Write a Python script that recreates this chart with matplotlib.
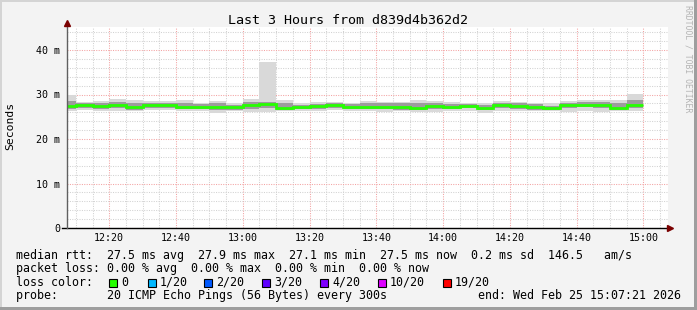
import matplotlib
matplotlib.use("Agg")
import matplotlib.pyplot as plt
from matplotlib.patches import Rectangle
import numpy as np

# ---- Data (ms), one bar per 5-minute step, first bar starts 12:05 ----
bar_start = "12:05"
step_min = 5
median = [27.4, 27.6, 27.4, 27.7, 27.1, 27.6, 27.6, 27.2, 27.2, 27.1, 27.1, 27.6,
          27.8, 27.0, 27.1, 27.4, 27.6, 27.3, 27.3, 27.3, 27.1, 27.0, 27.4, 27.3,
          27.4, 27.0, 27.6, 27.4, 27.1, 26.9, 27.6, 27.7, 27.7, 27.0, 27.6]
p_max = [29.9, 28.4, 28.5, 29.0, 28.8, 28.6, 28.6, 28.7, 28.2, 28.5, 28.0, 29.1,
         37.4, 28.8, 28.0, 28.3, 28.4, 28.2, 28.5, 28.4, 28.4, 28.8, 28.6, 28.4,
         28.2, 28.2, 28.6, 28.4, 28.2, 28.0, 28.6, 28.8, 28.8, 28.8, 30.1]
p_hi = [28.5, 28.0, 28.0, 28.4, 28.0, 28.1, 28.1, 28.0, 27.8, 28.0, 27.6, 28.3,
        28.4, 28.0, 27.6, 27.9, 28.0, 27.8, 28.0, 28.0, 28.0, 28.2, 28.0, 27.9,
        27.8, 27.7, 28.1, 28.0, 27.8, 27.5, 28.1, 28.3, 28.3, 28.2, 28.8]
p_lo = [26.8, 27.0, 26.8, 27.0, 26.6, 27.0, 26.9, 26.7, 26.7, 26.5, 26.6, 26.8,
        27.0, 26.6, 26.7, 26.8, 27.0, 26.8, 26.8, 26.7, 26.6, 26.5, 26.8, 26.8,
        26.9, 26.5, 27.0, 26.8, 26.6, 26.5, 27.0, 27.1, 27.0, 26.5, 27.0]
p_min = [26.3, 26.6, 26.3, 26.2, 26.2, 26.5, 26.5, 26.3, 26.2, 25.9, 26.3, 26.1,
         26.1, 26.3, 26.4, 26.3, 26.5, 26.4, 26.2, 26.0, 26.2, 26.1, 26.1, 26.2,
         26.3, 25.8, 26.2, 26.3, 26.2, 26.4, 26.1, 26.2, 26.1, 26.3, 26.3]

x_labels = ["12:20", "12:40", "13:00", "13:20", "13:40", "14:00", "14:20", "14:40", "15:00"]
y_ticks = [0, 10, 20, 30, 40]
y_labels = ["0", "10 m", "20 m", "30 m", "40 m"]
view_start, view_end = "12:07:21", "15:07:21"

title = "Last 3 Hours from d839d4b362d2"
rtt_line = "median rtt:  27.5 ms avg  27.9 ms max  27.1 ms min  27.5 ms now  0.2 ms sd  146.5   am/s"
loss_line = "packet loss: 0.00 % avg  0.00 % max  0.00 % min  0.00 % now"
probe_line = "probe:       20 ICMP Echo Pings (56 Bytes) every 300s"
end_line = "end: Wed Feb 25 15:07:21 2026"
loss_names = ["0", "1/20", "2/20", "3/20", "4/20", "10/20", "19/20"]
loss_colors = ["#26ff00", "#00b8ff", "#0059ff", "#5e00ff", "#7e00ff", "#dd00ff", "#ff0000"]


def to_min(s):
    parts = [int(v) for v in s.split(":")]
    m = (parts[0] - 12) * 60 + parts[1]
    if len(parts) > 2:
        m += parts[2] / 60
    return m


W, H = 697, 310
plt.rcParams['font.family'] = ['DejaVu Sans Mono']
fig = plt.figure(figsize=(W / 100, H / 100), dpi=100)
fig.patch.set_facecolor("#f3f3f3")


def fx(x):
    return x / W


def fy(y):
    return 1 - y / H


# plot area in pixels: x 67..668, y 27..228
ax = fig.add_axes([fx(67), fy(228), 601 / W, 201 / H])
ax.set_facecolor("white")

edges = to_min(bar_start) + step_min * np.arange(len(median) + 1)
left = edges[:-1]
pmin, pmax = np.array(p_min), np.array(p_max)
plo, phi = np.array(p_lo), np.array(p_hi)

# ---- smoke ----
ax.bar(left, pmax - pmin, bottom=pmin, width=step_min, align="edge",
       color="#d9d9d9", linewidth=0, zorder=2)
ax.bar(left, phi - plo, bottom=plo, width=step_min, align="edge",
       color="#9c9c9c", linewidth=0, zorder=3)
ax.stairs(median, edges, baseline=None, color="#26ff00", linewidth=2.0, zorder=4)

ax.set_xlim(to_min(view_start), to_min(view_end))
ax.set_ylim(0, 201 / 4.45)

ax.set_xticks([to_min(s) for s in x_labels])
ax.set_xticklabels(x_labels)
ax.set_xticks(np.arange(10, 190, 5), minor=True)
ax.set_yticks(y_ticks)
ax.set_yticklabels(y_labels)
ax.set_yticks(np.arange(0, 46, 2), minor=True)

ax.set_axisbelow(True)
ax.grid(which="minor", color="#d2d2d2", linestyle=(0, (1, 1.3)), linewidth=0.75)
ax.grid(which="major", color="#f3a3a3", linestyle=(0, (1, 1.3)), linewidth=0.75)

ax.tick_params(which="both", length=0)
ax.tick_params(axis="x", pad=3.5, labelsize=7.2, colors="#000000")
ax.tick_params(axis="y", pad=5, labelsize=7.2, colors="#000000")
for s in ax.spines.values():
    s.set_visible(False)

# axis lines and arrows
fig.add_artist(plt.Line2D([fx(62), fx(668)], [fy(228), fy(228)], color="black", lw=1.0))
fig.add_artist(plt.Line2D([fx(67), fx(67)], [fy(228), fy(24)], color="#606060", lw=1.0))
fig.add_artist(plt.Line2D([fx(670)], [fy(228)], marker=">", color="#7a0000", markersize=4.5))
fig.add_artist(plt.Line2D([fx(67)], [fy(22.5)], marker="^", color="#7a0000", markersize=4.5))

# ---- texts ----
fig.text(0.4993, fy(24), title, ha="center", va="baseline", fontsize=9.6)
fig.text(fx(10), fy(126), "Seconds", rotation=90, ha="center", va="center", fontsize=8.2)
fig.text(fx(688), fy(59), "RRDTOOL / TOBI OETIKER", rotation=270, ha="center",
         va="center", fontsize=5.9, color="#b4b4b4")

fs = 8.35
fig.text(fx(16), fy(258.5), rtt_line, ha="left", va="baseline", fontsize=fs)
fig.text(fx(16), fy(272), loss_line, ha="left", va="baseline", fontsize=fs)
fig.text(fx(16), fy(285.7), "loss color:", ha="left", va="baseline", fontsize=fs)
fig.text(fx(16), fy(299.4), probe_line, ha="left", va="baseline", fontsize=fs)
fig.text(fx(478), fy(299.4), end_line, ha="left", va="baseline", fontsize=fs)

box_x = [109, 148, 204, 262, 320, 378, 443]
for bx, name, col in zip(box_x, loss_names, loss_colors):
    fig.add_artist(Rectangle((fx(bx), fy(286.5)), 8 / W, 8 / H, facecolor=col,
                             edgecolor="black", linewidth=0.8))
    fig.text(fx(bx + 12), fy(285.7), name, ha="left", va="baseline", fontsize=fs)

# outer 3D frame
fig.add_artist(Rectangle((0, 1 - 2 / H), 1, 2 / H, facecolor="#d4d4d4", edgecolor="none"))
fig.add_artist(Rectangle((0, 0), 2 / W, 1, facecolor="#d4d4d4", edgecolor="none"))
fig.add_artist(Rectangle((0, 0), 1, 3 / H, facecolor="#9e9e9e", edgecolor="none"))
fig.add_artist(Rectangle((1 - 3 / W, 0), 3 / W, 1, facecolor="#9e9e9e", edgecolor="none"))

fig.savefig("out.png", dpi=100, facecolor=fig.get_facecolor())
